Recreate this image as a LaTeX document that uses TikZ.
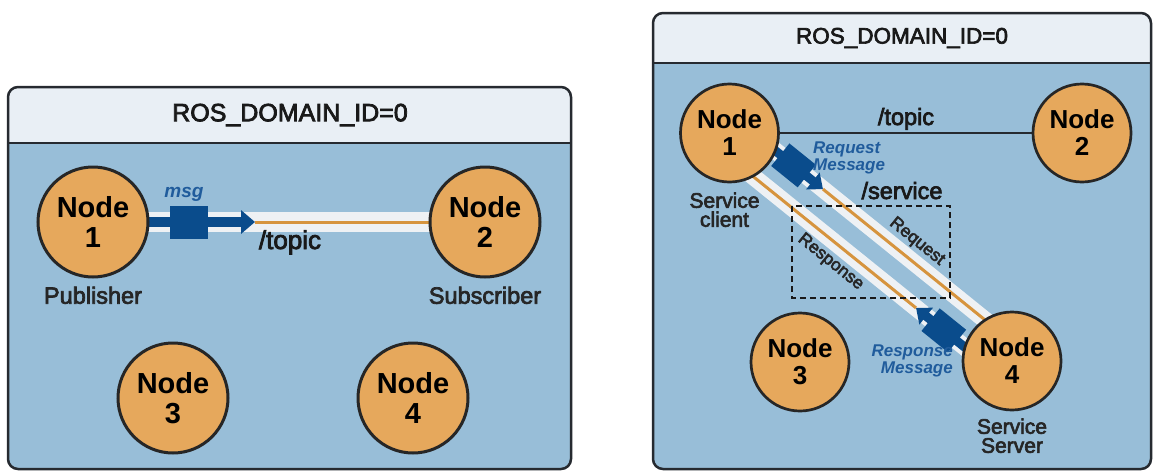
\documentclass[tikz,border=0pt]{standalone}
\usepackage{fontspec}
\setmainfont{Liberation Sans}
\newfontfamily\medfont{Liberation Sans}[FakeBold=3]
\usetikzlibrary{positioning,calc,arrows.meta}
\definecolor{domainblue}{RGB}{152,190,216}
\definecolor{headgray}{RGB}{233,239,245}
\definecolor{framegray}{RGB}{38,42,48}
\definecolor{nodeorange}{RGB}{230,168,92}
\definecolor{msgblue}{RGB}{10,76,140}
\definecolor{msgtext}{RGB}{32,92,156}
\definecolor{bandwhite}{RGB}{238,241,244}
\definecolor{lineorange}{RGB}{214,148,62}
\pgfdeclarelayer{panel}
\pgfdeclarelayer{links}
\pgfsetlayers{panel,links,main}

\begin{document}
\begin{tikzpicture}[x=1pt,y=-1pt,
		frame/.style={draw=framegray, line width=2.5pt},
		rosnode/.style={circle, draw=black!85, line width=2.7pt, fill=nodeorange, inner sep=0pt,
			minimum size=98pt, align=center, font=\fontsize{26}{27}\selectfont\bfseries},
		bignode/.style={rosnode, line width=3pt, minimum size=110pt, font=\fontsize{29}{30}\selectfont\bfseries},
		role/.style={inner sep=0pt, align=center, text=black!85, font={\medfont\fontsize{21}{19}\selectfont}},
		bigrole/.style={role, font={\medfont\fontsize{23.5}{21}\selectfont}},
		domtitle/.style={inner sep=0pt, text=black!90, font={\medfont\fontsize{22.5}{24}\selectfont}},
		bigtitle/.style={domtitle, font={\medfont\fontsize{25}{27}\selectfont}},
		toplbl/.style={inner sep=0pt, text=black!90, font={\medfont\fontsize{23.5}{25}\selectfont}},
		bigtoplbl/.style={toplbl, font={\medfont\fontsize{26}{28}\selectfont}},
		msglbl/.style={inner sep=0pt, text=msgtext, font=\fontsize{17}{15}\selectfont\bfseries\itshape},
		flowlbl/.style={inner sep=0pt, text=black!85, font={\medfont\fontsize{17.5}{19}\selectfont}},
		band/.style={draw=bandwhite, line width=#1},
		topic/.style={draw=lineorange, line width=3pt},
		msgline/.style={draw=msgblue, line width=9pt, -{Triangle[width=21pt,length=13pt]}},
		bigmsgline/.style={draw=msgblue, line width=10pt, -{Triangle[width=23pt,length=14pt]}},
		msgbox/.style={fill=msgblue, inner sep=0pt, minimum width=34pt, minimum height=29pt},
		servbox/.style={draw=black!90, line width=2pt, dash pattern=on 6pt off 4pt}]
	\useasboundingbox (0,0) rectangle (1153,471);
	% publisher / subscriber
	\begin{scope}
		\begin{pgfonlayer}{panel}
			\begin{scope}
				\clip[rounded corners=10pt] (8,87) rectangle (571,469);
				\fill[domainblue] (8,87) rectangle (571,469);
				\fill[headgray] (8,87) rectangle (571,143);
			\end{scope}
			\draw[frame] (8,143) -- (571,143);
			\draw[frame, rounded corners=10pt] (8,87) rectangle (571,469);
		\end{pgfonlayer}
		\node[bigtitle] at (290,115) {ROS\_DOMAIN\_ID=0};
		\node[bignode] (ln1) at (93,222) {Node\\1};
		\node[bignode] (ln2) at (485,222) {Node\\2};
		\node[bignode] (ln3) at (173,398) {Node\\3};
		\node[bignode] (ln4) at (413,398) {Node\\4};
		\node[bigrole, below=8pt of ln1] {Publisher};
		\node[bigrole, below=8pt of ln2] {Subscriber};
		\coordinate (ltip) at (255,222);
		\begin{pgfonlayer}{links}
			\draw[band=20pt] (ln1.center) -- (ln2.center);
			\draw[topic] (ltip) -- (ln2.center);
			\draw[bigmsgline] (ln1.center) -- (ltip);
		\end{pgfonlayer}
		\node[msgbox, minimum width=38pt, minimum height=33pt] (lmsg) at (189,222) {};
		\node[msglbl, font=\fontsize{19}{17}\selectfont\bfseries\itshape, anchor=base] at (184,197) {msg};
		\node[bigtoplbl, anchor=base] at (290,249) {/topic};
	\end{scope}
	% service client / server
	\begin{scope}
		\begin{pgfonlayer}{panel}
			\begin{scope}
				\clip[rounded corners=10pt] (653,13) rectangle (1151,469);
				\fill[domainblue] (653,13) rectangle (1151,469);
				\fill[headgray] (653,13) rectangle (1151,63);
			\end{scope}
			\draw[frame] (653,63) -- (1151,63);
			\draw[frame, rounded corners=10pt] (653,13) rectangle (1151,469);
		\end{pgfonlayer}
		\node[domtitle] at (902,38) {ROS\_DOMAIN\_ID=0};
		\node[rosnode] (n1) at (729.5,133) {Node\\1};
		\node[rosnode] (n2) at (1082,133) {Node\\2};
		\node[rosnode] (n3) at (800,362) {Node\\3};
		\node[rosnode] (n4) at (1012,361) {Node\\4};
		\node[role, below=9pt of n1, xshift=-5pt] {Service\\client};
		\node[role, below=7pt of n4] {Service\\Server};
		\coordinate (rqa) at ([shift={(9.4,-11.7)}]n1.center);
		\coordinate (rqb) at ([shift={(9.4,-11.7)}]n4.center);
		\coordinate (rsa) at ([shift={(-11.9,14.8)}]n1.center);
		\coordinate (rsb) at ([shift={(-11.9,14.8)}]n4.center);
		\coordinate (rqtip) at ($(rqa)!108pt!(rqb)$);
		\coordinate (rstip) at ($(rsb)!108pt!(rsa)$);
		\begin{pgfonlayer}{links}
			\draw[framegray, line width=2pt] (n1) -- (n2);
			\draw[band=17pt] (rqa) -- (rqb);
			\draw[band=17pt] (rsa) -- (rsb);
			\draw[topic] (rqtip) -- (rqb);
			\draw[topic] (rsa) -- (rstip);
			\draw[msgline] (rqa) -- (rqtip);
			\draw[msgline] (rsb) -- (rstip);
		\end{pgfonlayer}
		\path (rqa) -- (rqtip) node[msgbox, pos=0.65, sloped] (rqmsg) {};
		\path (rsb) -- (rstip) node[msgbox, pos=0.67, sloped] (rsmsg) {};
		\path (rqa) -- (rqb) node[flowlbl, pos=0.59, sloped, above=10pt] {Request};
		\path (rsa) -- (rsb) node[flowlbl, pos=0.44, sloped, below=10pt] {Response};
		\draw[servbox] (792,206) rectangle (950,298);
		\node[toplbl, anchor=base] at (906,125) {/topic};
		\node[toplbl, anchor=base] at (902,199) {/service};
		\node[msglbl, align=left, anchor=base west] at (813,170) {Request\\Message};
		\node[msglbl, align=right, anchor=base east] at (953,373) {Response\\Message};
	\end{scope}
\end{tikzpicture}
\end{document}
